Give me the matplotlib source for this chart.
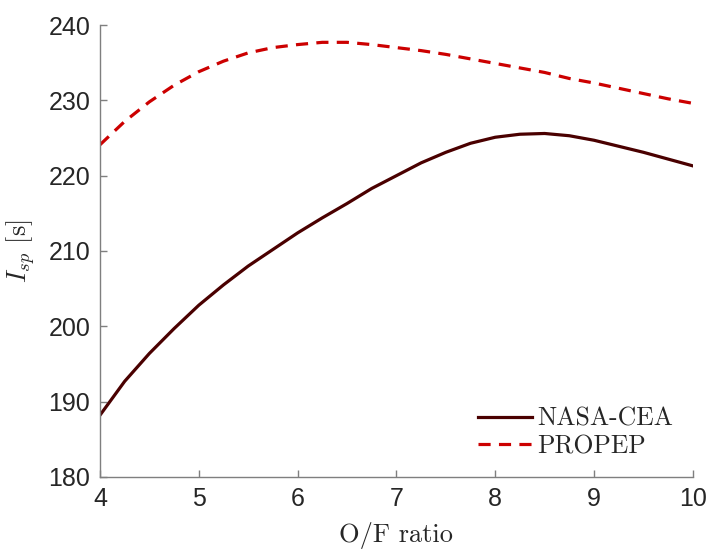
import numpy as np
import matplotlib
matplotlib.use('Agg')
import matplotlib.pyplot as plt

# O/F ratio vs specific impulse
of_ratio = [4.0, 4.25, 4.5, 4.75, 5.0, 5.25, 5.5, 5.75, 6.0, 6.25, 6.5, 6.75, 7.0,
            7.25, 7.5, 7.75, 8.0, 8.25, 8.5, 8.75, 9.0, 9.25, 9.5, 9.75, 10.0]
isp_cea = [188.2, 192.7, 196.4, 199.7, 202.8, 205.5, 208.0, 210.2, 212.4, 214.4,
           216.3, 218.3, 220.0, 221.7, 223.1, 224.3, 225.1, 225.5, 225.6, 225.3,
           224.7, 223.9, 223.1, 222.2, 221.3]
isp_propep = [224.1, 227.2, 229.8, 232.0, 233.8, 235.2, 236.3, 237.0, 237.4, 237.7,
              237.7, 237.4, 237.0, 236.6, 236.1, 235.5, 234.9, 234.3, 233.7, 232.9,
              232.3, 231.6, 230.9, 230.2, 229.6]

x_ticks = [4, 5, 6, 7, 8, 9, 10]
y_ticks = [180, 190, 200, 210, 220, 230, 240]

plt.rcParams['mathtext.fontset'] = 'cm'
plt.rcParams['axes.unicode_minus'] = False

axcol = '#262626'

fig = plt.figure(figsize=(7.07, 5.52), dpi=100)
ax = fig.add_axes([0.1414, 0.1359, 0.8386, 0.8188])

ax.plot(of_ratio, isp_cea, color='#4a0000', lw=2.3, label='NASA-CEA')
ax.plot(of_ratio, isp_propep, color='#cc0000', lw=2.3, ls=(0, (3.8, 2.6)), label='PROPEP')

ax.set_xlim(4, 10)
ax.set_ylim(180, 240)
ax.set_xticks(x_ticks)
ax.set_yticks(y_ticks)

for s in ['top', 'right']:
    ax.spines[s].set_visible(False)
for s in ['left', 'bottom']:
    ax.spines[s].set_color('#7f7f7f')
    ax.spines[s].set_linewidth(1.0)

ax.tick_params(direction='in', length=5, width=1.0, color='#7f7f7f',
               labelcolor=axcol, labelsize=18, pad=7)
for lab in ax.get_xticklabels() + ax.get_yticklabels():
    lab.set_family(['Liberation Sans', 'DejaVu Sans'])

ax.set_xlabel('O/F ratio', family='cmr10', fontsize=19, color=axcol, labelpad=8)
ax.set_ylabel(r'$I_{sp}$ [s]', family='cmr10', fontsize=19, color=axcol, labelpad=8)

leg = ax.legend(loc='lower right', bbox_to_anchor=(1.005, -0.01), frameon=False,
                prop={'family': 'cmr10', 'size': 18.5}, handlelength=2.1,
                handletextpad=0.2, labelspacing=0.15)
for t in leg.get_texts():
    t.set_color(axcol)

fig.savefig('out.png', dpi=100)
